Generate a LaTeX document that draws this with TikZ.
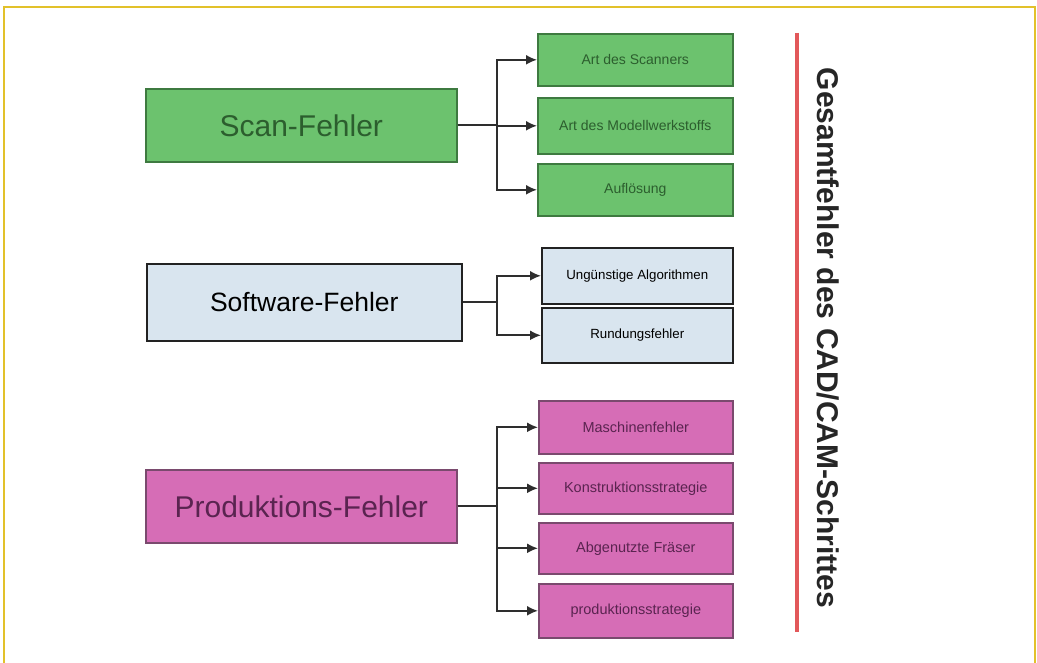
\documentclass[tikz,border=0pt]{standalone}
\usepackage{fontspec}
\setmainfont{Liberation Sans}
\usetikzlibrary{arrows.meta}
\definecolor{frameY}{HTML}{E2C12A}
\definecolor{gfill}{HTML}{6CC26E}
\definecolor{gdraw}{HTML}{3E7A40}
\definecolor{gtext}{HTML}{2C5E2E}
\definecolor{bfill}{HTML}{D9E5EF}
\definecolor{bdraw}{HTML}{222222}
\definecolor{pfill}{HTML}{D66DB6}
\definecolor{pdraw}{HTML}{7A4A6E}
\definecolor{ptext}{HTML}{5A2450}
\definecolor{redline}{HTML}{E2585A}
\definecolor{conn}{HTML}{2E2E2E}
\tikzset{
  box/.style={rectangle, anchor=north west, inner sep=0pt, line width=1.6pt},
  gbig/.style={box, fill=gfill, draw=gdraw, text=gtext, font=\fontsize{30}{34}\selectfont},
  bbig/.style={box, fill=bfill, draw=bdraw, text=black, font=\fontsize{26.5}{30}\selectfont},
  pbig/.style={box, fill=pfill, draw=pdraw, text=ptext, font=\fontsize{30}{34}\selectfont},
  gsmall/.style={box, fill=gfill, draw=gdraw, text=gtext, font=\fontsize{14}{16}\selectfont},
  bsmall/.style={box, fill=bfill, draw=bdraw, text=black, font=\fontsize{13.3}{15}\selectfont},
  psmall/.style={box, fill=pfill, draw=pdraw, text=ptext, font=\fontsize{14.5}{16}\selectfont},
  arr/.style={draw=conn, line width=2pt, -{Latex[length=11pt,width=10pt]}},
}
\begin{document}
\begin{tikzpicture}[x=1pt,y=-1pt]
\useasboundingbox (0,0) rectangle (1037,663);
\fill[white] (0,0) rectangle (1037,663);
\draw[frameY, line width=2.5pt] (4,663) -- (4,7) -- (1035,7) -- (1035,663);

% Scan group
\node[gbig, minimum width=311pt, minimum height=73pt] (scan) at (145,88) {Scan-Fehler};
\node[gsmall, minimum width=195pt, minimum height=52pt] (s1) at (537,33) {Art des Scanners};
\node[gsmall, minimum width=195pt, minimum height=56pt] (s2) at (537,97) {Art des Modellwerkstoffs};
\node[gsmall, minimum width=195pt, minimum height=52pt] (s3) at (537,163) {Auflösung};
\coordinate (sb) at (497,0);
\foreach \t in {s1,s2,s3}{
  \draw[arr] (scan.east) -- (scan.east -| sb) |- (\t.west);
}

% Software group
\node[bbig, minimum width=315pt, minimum height=77pt] (soft) at (146,263) {Software-Fehler};
\node[bsmall, minimum width=191pt, minimum height=56pt] (b1) at (541,247) {Ungünstige Algorithmen};
\node[bsmall, minimum width=191pt, minimum height=55pt] (b2) at (541,307) {Rundungsfehler};
\coordinate (bb) at (497,0);
\foreach \t in {b1,b2}{
  \draw[arr] (soft.east) -- (soft.east -| bb) |- (\t.west);
}

% Produktion group
\node[pbig, minimum width=311pt, minimum height=73pt] (prod) at (145,469) {Produktions-Fehler};
\node[psmall, minimum width=194pt, minimum height=53pt] (p1) at (538,400) {Maschinenfehler};
\node[psmall, minimum width=194pt, minimum height=51pt] (p2) at (538,462) {Konstruktionsstrategie};
\node[psmall, minimum width=194pt, minimum height=51pt] (p3) at (538,522) {Abgenutzte Fräser};
\node[psmall, minimum width=194pt, minimum height=54pt] (p4) at (538,583) {produktionsstrategie};
\coordinate (pb) at (497,0);
\foreach \t in {p1,p2,p3,p4}{
  \draw[arr] (prod.east) -- (prod.east -| pb) |- (\t.west);
}

% Right side
\coordinate (rtop) at (797,33);
\coordinate (rbot) at (797,632);
\draw[redline, line width=3.5pt] (rtop) -- (rbot);
\node[rotate=-90, font=\bfseries\fontsize{30}{33}\selectfont, text=black!85] (total) at (828,338) {Gesamtfehler des CAD/CAM-Schrittes};
\end{tikzpicture}
\end{document}
